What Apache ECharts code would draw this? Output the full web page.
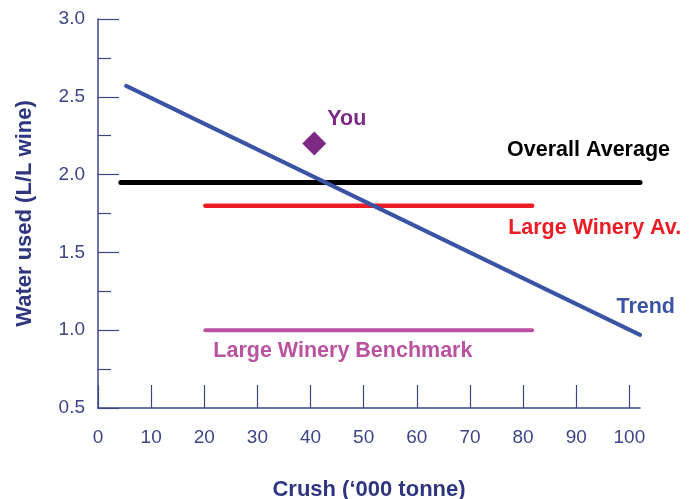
<!DOCTYPE html>
<html>
<head>
<meta charset="utf-8">
<script src="https://cdn.jsdelivr.net/npm/echarts@6/dist/echarts.min.js"></script>
<style>
  html, body { margin: 0; padding: 0; background: #fff; }
  #chart { width: 694px; height: 499px; }
</style>
</head>
<body>
<div id="chart"></div>
<script>
// tick labels
const xTicks = [0, 10, 20, 30, 40, 50, 60, 70, 80, 90, 100];
const yTicks = [0.5, 1.0, 1.5, 2.0, 2.5, 3.0];

// series values
const trendX = [5.3, 102];
const trendY = [2.57, 0.97];
const overallAvgX = [4.3, 102];
const overallAvgY = [1.95, 1.95];
const largeAvX = [20.2, 81.7];
const largeAvY = [1.8, 1.8];
const benchmarkX = [20.2, 81.7];
const benchmarkY = [1.0, 1.0];
const youX = [40.7];
const youY = [2.2];

const AXIS = '#3d4588';
const LABEL_FONT = "'Liberation Sans', Arial, sans-serif";

function pairs(xs, ys) {
    return xs.map((x, i) => [x, ys[i]]);
}

// put a text label on one point of a line
function withLabel(points, idx, text, color, align, offset) {
    return points.map((p, i) => {
        if (i !== idx) return p;
        return {
            value: p,
            label: {
                show: true,
                formatter: text,
                position: 'inside',
                align: align,
                verticalAlign: 'middle',
                offset: offset,
                color: color,
                fontFamily: LABEL_FONT,
                fontWeight: 'bold',
                fontSize: 21.5
            }
        };
    });
}

function lineSeries(name, data, color, width) {
    return {
        name: name,
        type: 'line',
        data: data,
        symbol: 'circle',
        symbolSize: 0,
        lineStyle: { color: color, width: width, cap: 'round' },
        itemStyle: { color: color, opacity: 1 },
        silent: true
    };
}

let chart = echarts.init(document.getElementById('chart'));
let option = {
    animation: false,
    grid: { left: 98, right: 54, top: 19, bottom: 91, outerBoundsMode: 'none', containLabel: false },
    xAxis: {
        type: 'value',
        min: 0,
        max: 102,
        interval: 10,
        name: 'Crush (\u2018000 tonne)',
        nameLocation: 'middle',
        nameGap: 71,
        nameTextStyle: { color: '#2e3680', fontSize: 22, fontWeight: 'bold', fontFamily: "'Liberation Sans', Arial" },
        splitLine: { show: false },
        axisLine: { lineStyle: { color: AXIS, width: 1.5 } },
        axisTick: { inside: true, length: 23, customValues: xTicks, lineStyle: { color: AXIS, width: 1.2 } },
        axisLabel: {
            customValues: xTicks,
            color: AXIS, fontSize: 19, margin: 20,
            fontFamily: "'Liberation Sans', Arial"
        }
    },
    yAxis: {
        type: 'value',
        min: 0.5,
        max: 3.0,
        interval: 0.5,
        name: 'Water used (L/L wine)',
        nameLocation: 'middle',
        nameGap: 62,
        nameTextStyle: { color: '#2e3680', fontSize: 22, fontWeight: 'bold', fontFamily: "'Liberation Sans', Arial" },
        splitLine: { show: false },
        axisLine: { show: true, lineStyle: { color: AXIS, width: 1.5 } },
        axisTick: { show: true, inside: true, length: 21, lineStyle: { color: AXIS, width: 1.2 } },
        minorTick: { show: true, splitNumber: 2, length: 13, lineStyle: { color: AXIS, width: 1.2 } },
        minorSplitLine: { show: false },
        axisLabel: {
            color: AXIS, fontSize: 19, margin: 13,
            fontFamily: "'Liberation Sans', Arial",
            formatter: v => v.toFixed(1)
        }
    },
    series: [
        lineSeries('Large Winery Benchmark',
            withLabel(pairs(benchmarkX, benchmarkY), 0, 'Large Winery Benchmark', '#b9529f', 'left', [8, 21]),
            '#b9529f', 4),
        lineSeries('Large Winery Av.',
            withLabel(pairs(largeAvX, largeAvY), 1, 'Large Winery Av.', '#ed1c24', 'left', [-24, 22]),
            '#ed1c24', 4.5),
        lineSeries('Overall Average',
            withLabel(pairs(overallAvgX, overallAvgY), 1, 'Overall Average', '#000000', 'right', [30, -32]),
            '#000000', 5),
        lineSeries('Trend',
            withLabel(pairs(trendX, trendY), 1, 'Trend', '#3a53a4', 'right', [35, -28]),
            '#3a53a4', 4),
        {
            name: 'You',
            type: 'scatter',
            symbol: 'diamond',
            symbolSize: 24,
            itemStyle: { color: '#7d2a85', opacity: 1 },
            data: pairs(youX, youY),
            label: {
                show: true,
                formatter: 'You',
                position: 'inside',
                align: 'left',
                verticalAlign: 'middle',
                offset: [13, -24],
                color: '#7d2a85',
                fontFamily: LABEL_FONT,
                fontWeight: 'bold',
                fontSize: 21.5
            },
            silent: true
        }
    ]
};
chart.setOption(option, true);
</script>
</body>
</html>
